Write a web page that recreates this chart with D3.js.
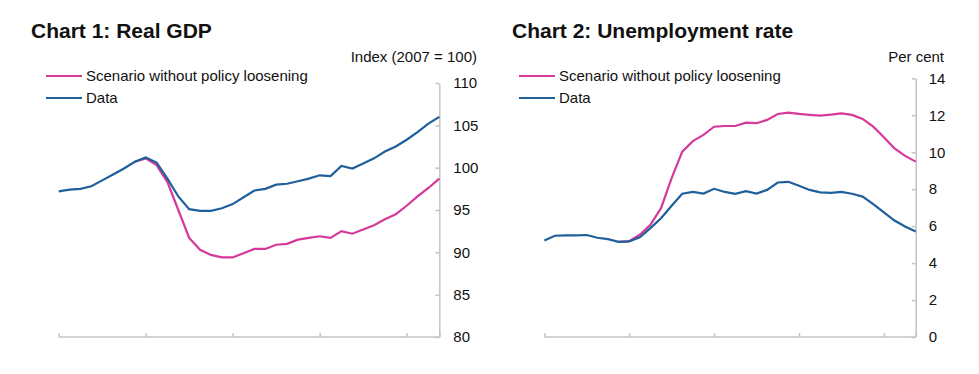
<!DOCTYPE html>
<html>
<head>
<meta charset="utf-8">
<script src="https://cdn.jsdelivr.net/npm/d3@7"></script>
<style>
  body { margin: 0; background: #fff; }
  svg text { font-family: "Liberation Sans", Arial, Helvetica, sans-serif; fill: #111; }
</style>
</head>
<body>
<div id="charts"></div>
<script>
// quarters 2006 Q1 .. 2014 Q4 (index 0..35)
var quarters = d3.range(36);
var yearTicks = [0, 8, 16, 24, 32]; // 2006, 2008, 2010, 2012, 2014

// Chart 1: Real GDP, index 2007 = 100
var gdpData = [97.2, 97.4, 97.5, 97.8, 98.5, 99.2, 99.9, 100.7, 101.2, 100.6,
  98.7, 96.6, 95.1, 94.9, 94.9, 95.2, 95.7, 96.5, 97.3, 97.5,
  98.0, 98.1, 98.4, 98.7, 99.1, 99.0, 100.2, 99.9, 100.5, 101.1,
  101.9, 102.5, 103.3, 104.2, 105.2, 106.0];
var gdpScenario = [null, null, null, null, null, null, null, 100.7, 101.1, 100.3,
  98.3, 95.0, 91.7, 90.3, 89.7, 89.4, 89.4, 89.9, 90.4, 90.4,
  90.9, 91.0, 91.5, 91.7, 91.9, 91.7, 92.5, 92.2, 92.7, 93.2,
  93.9, 94.5, 95.5, 96.6, 97.6, 98.7];
var gdpTicks = [80, 85, 90, 95, 100, 105, 110];

// Chart 2: Unemployment rate, per cent
var unempData = [5.22, 5.48, 5.5, 5.5, 5.52, 5.37, 5.3, 5.15, 5.17, 5.4,
  5.89, 6.43, 7.1, 7.75, 7.85, 7.76, 8.02, 7.85, 7.75, 7.89,
  7.76, 7.96, 8.36, 8.4, 8.18, 7.96, 7.83, 7.8, 7.85, 7.75,
  7.6, 7.19, 6.74, 6.3, 5.98, 5.71];
var unempScenario = [null, null, null, null, null, null, null, 5.15, 5.18, 5.53,
  6.07, 6.97, 8.6, 10.03, 10.6, 10.94, 11.38, 11.42, 11.42, 11.6,
  11.57, 11.75, 12.07, 12.14, 12.07, 12.02, 11.98, 12.03, 12.1, 12.02,
  11.8, 11.38, 10.81, 10.21, 9.8, 9.49];
var unempTicks = [0, 2, 4, 6, 8, 10, 12, 14];

var pink = "#d6399a", blue = "#1f5f9a", axisGrey = "#c4c4c4";

var svg = d3.select("#charts")
  .append("svg")
    .attr("width", 979)
    .attr("height", 374);

function drawChart(opt) {
  var g = svg.append("g");

  var x = d3.scaleLinear().domain([0, 35]).range([opt.left, opt.right]);
  var y = d3.scaleLinear().domain(opt.domain).range([337, opt.top]);

  // title
  g.append("text")
    .attr("x", opt.titleX)
    .attr("y", 38)
    .style("font-size", "21px")
    .style("font-weight", "bold")
    .text(opt.title);

  // unit label
  g.append("text")
    .attr("x", opt.unitX)
    .attr("y", 62)
    .attr("text-anchor", "end")
    .style("font-size", "15px")
    .text(opt.unit);

  // legend
  var legend = [{name: "Scenario without policy loosening", color: pink},
                {name: "Data", color: blue}];
  legend.forEach(function(d, i) {
    var ly = 76 + i * 22;
    g.append("line")
      .attr("x1", opt.legendX).attr("x2", opt.legendX + 36)
      .attr("y1", ly).attr("y2", ly)
      .attr("stroke", d.color).attr("stroke-width", 2);
    g.append("text")
      .attr("x", opt.legendX + 40)
      .attr("y", ly + 5)
      .style("font-size", "15px")
      .text(d.name);
  });

  // x axis
  var xAxis = g.append("g")
    .attr("transform", "translate(0,337)")
    .call(d3.axisBottom(x).tickValues(yearTicks.concat([35])).tickSize(-4).tickFormat(""));
  xAxis.select(".domain").remove();
  xAxis.append("line")
    .attr("x1", opt.left).attr("x2", opt.right)
    .attr("stroke", axisGrey).attr("stroke-width", 1.5);
  xAxis.selectAll(".tick line").attr("stroke", axisGrey).attr("stroke-width", 1.5);

  // y axis on the right
  var yAxis = g.append("g")
    .attr("transform", "translate(" + opt.right + ",0)")
    .call(d3.axisRight(y).tickValues(opt.ticks).tickSize(0).tickPadding(opt.tickPad));
  yAxis.select(".domain").attr("stroke", axisGrey).attr("stroke-width", 1.5);
  yAxis.selectAll(".tick text")
    .style("font-size", "15px")
    .style("font-family", "Liberation Sans, Arial, sans-serif")
    .attr("fill", "#111");
  yAxis.selectAll(".tick")
    .append("line")
    .attr("x1", -4).attr("x2", 0)
    .attr("stroke", axisGrey).attr("stroke-width", 1.5);

  var line = d3.line()
    .defined(function(d) { return d != null; })
    .x(function(d, i) { return x(quarters[i]); })
    .y(function(d) { return y(d); });

  g.append("path")
    .datum(opt.scenario)
    .attr("d", line)
    .attr("fill", "none")
    .attr("stroke", pink)
    .attr("stroke-width", 2.2);

  g.append("path")
    .datum(opt.data)
    .attr("d", line)
    .attr("fill", "none")
    .attr("stroke", blue)
    .attr("stroke-width", 2.2);
}

drawChart({
  title: "Chart 1: Real GDP", titleX: 31,
  unit: "Index (2007 = 100)", unitX: 477,
  legendX: 46,
  left: 58.7, right: 439.3, top: 83,
  domain: [80, 110], ticks: gdpTicks, tickPad: 14,
  data: gdpData, scenario: gdpScenario
});

drawChart({
  title: "Chart 2: Unemployment rate", titleX: 512,
  unit: "Per cent", unitX: 944,
  legendX: 519,
  left: 544.3, right: 915.7, top: 78.3,
  domain: [0, 14], ticks: unempTicks, tickPad: 13,
  data: unempData, scenario: unempScenario
});
</script>
</body>
</html>
